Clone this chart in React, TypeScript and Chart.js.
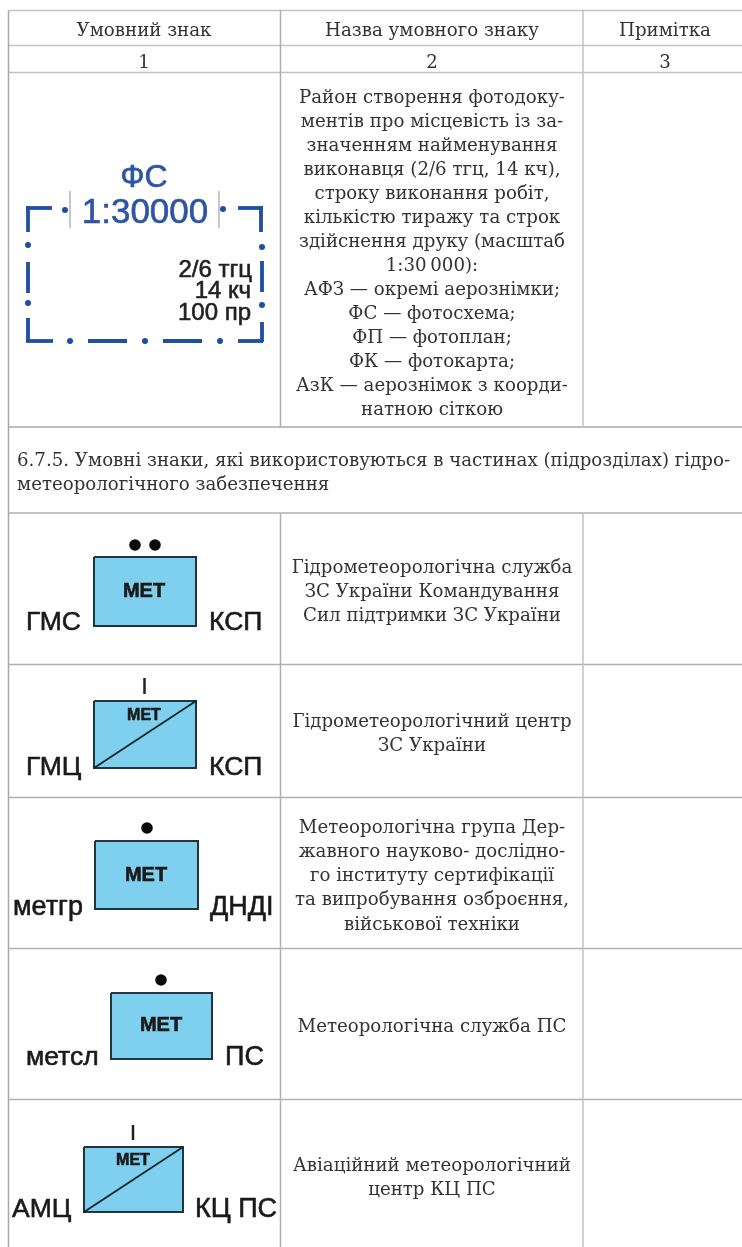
import React, { useEffect, useRef } from "react";
import { Chart, registerables } from "chart.js";

Chart.register(...registerables);

const SERIF = "'DejaVu Serif'";
const SANS = "'Liberation Sans'";
const INK = "#333333";

// Table rules: [x1, y1, x2, y2, colour]
const tableRules: [number, number, number, number, string][] = [
  [8.5, 10.5, 742, 10.5, "#c2c2c2"],
  [8.5, 45.5, 742, 45.5, "#c2c2c2"],
  [8.5, 72.5, 742, 72.5, "#c2c2c2"],
  [8.5, 427, 742, 427, "#a8a8a8"],
  [8.5, 513, 742, 513, "#b0b0b0"],
  [8.5, 664.5, 742, 664.5, "#b0b0b0"],
  [8.5, 797.5, 742, 797.5, "#b0b0b0"],
  [8.5, 948.5, 742, 948.5, "#b0b0b0"],
  [8.5, 1099.5, 742, 1099.5, "#b0b0b0"],
  [8.5, 10.5, 8.5, 1247, "#a8a8a8"],
  [280.5, 10.5, 280.5, 427, "#b0b0b0"],
  [280.5, 513, 280.5, 1247, "#b0b0b0"],
  [583, 10.5, 583, 427, "#c2c2c2"],
  [583, 513, 583, 1247, "#c2c2c2"],
];

// Map-symbol boxes: [x1, y1, x2, y2, diagonal]
const boxes: [number, number, number, number, boolean][] = [
  [94, 557, 196, 626, false],
  [94, 701, 196, 768, true],
  [95, 841, 198, 909, false],
  [111, 993, 212, 1059, false],
  [84, 1147, 183, 1212, true],
];
const blackDots = [
  { x: 135, y: 545 },
  { x: 155, y: 545 },
  { x: 147, y: 828 },
  { x: 161, y: 980 },
];
const blackTicks: [number, number, number, number][] = [
  [144.5, 678, 144.5, 694],
  [133, 1125, 133, 1140],
];
const blueDashes: [number, number, number, number][] = [
  [28, 232, 28, 206.5],
  [26, 208, 52, 208],
  [238, 208, 263, 208],
  [261, 206.5, 261, 232],
  [28, 262, 28, 293],
  [28, 318, 28, 342],
  [26, 341, 53, 341],
  [88, 341, 127, 341],
  [163, 341, 202, 341],
  [238, 341, 263, 341],
  [262, 261, 262, 292],
  [262, 322, 262, 342],
];
const blueDots = [
  { x: 65, y: 210 },
  { x: 223, y: 209 },
  { x: 28, y: 245 },
  { x: 28, y: 303 },
  { x: 262, y: 247 },
  { x: 262, y: 305 },
  { x: 70, y: 341 },
  { x: 145, y: 341 },
  { x: 220, y: 341 },
];
const grayTicks: [number, number, number, number][] = [
  [70, 191, 70, 228],
  [219, 191, 219, 228],
];

// Texts: [text, x, baseline y]
const headerTexts: [string, number, number][] = [
  ["Умовний знак", 144, 36],
  ["Назва умовного знаку", 432, 36],
  ["Примітка", 665, 36],
  ["1", 144, 68],
  ["2", 432, 68],
  ["3", 665, 68],
];
const bodyTexts: [string, number, number][] = [
  ["Район створення фотодоку-", 432, 103],
  ["ментів про місцевість із за-", 432, 127],
  ["значенням найменування", 432, 151],
  ["виконавця (2/6 тгц, 14 кч),", 432, 175],
  ["строку виконання робіт,", 432, 199],
  ["кількістю тиражу та строк", 432, 223],
  ["здійснення друку (масштаб", 432, 247],
  ["1:30\u2009000):", 432, 271],
  ["АФЗ — окремі аерознімки;", 432, 295],
  ["ФС — фотосхема;", 432, 319],
  ["ФП — фотоплан;", 432, 343],
  ["ФК — фотокарта;", 432, 367],
  ["АзК — аерознімок з коорди-", 432, 391],
  ["натною сіткою", 432, 415],
  ["Гідрометеорологічна служба", 432, 573],
  ["ЗС України Командування", 432, 597],
  ["Сил підтримки ЗС України", 432, 621],
  ["Гідрометеорологічний центр", 432, 727],
  ["ЗС України", 432, 751],
  ["Метеорологічна група Дер-", 432, 833],
  ["жавного науково- дослідно-", 432, 857],
  ["го інституту сертифікації", 432, 881],
  ["та випробування озброєння,", 432, 905],
  ["військової техніки", 432, 930],
  ["Метеорологічна служба ПС", 432, 1032],
  ["Авіаційний метеорологічний", 432, 1171],
  ["центр КЦ ПС", 432, 1195],
];
const sectionTexts: [string, number, number][] = [
  ["6.7.5. Умовні знаки, які використовуються в частинах (підрозділах) гідро-", 17, 466],
  ["метеорологічного забезпечення", 17, 490],
];
// Symbol captions: [text, x, baseline y, px, bold, colour, align]
const symbolTexts: [string, number, number, number, boolean, string, CanvasTextAlign][] = [
  ["ФС", 144, 187, 32, false, "#2d55a3", "center"],
  ["1:30000", 145, 223, 35, false, "#2d55a3", "center"],
  ["2/6 тгц", 252, 277, 24, false, "#222222", "right"],
  ["14 кч", 251, 298, 24, false, "#222222", "right"],
  ["100 пр", 251, 320, 24, false, "#222222", "right"],
  ["МЕТ", 144, 597, 20, true, "#1a1a1a", "center"],
  ["ГМС", 26, 630, 26.5, false, "#1a1a1a", "left"],
  ["КСП", 209, 630, 26.5, false, "#1a1a1a", "left"],
  ["МЕТ", 144, 720, 16, true, "#1a1a1a", "center"],
  ["ГМЦ", 26, 775, 26.5, false, "#1a1a1a", "left"],
  ["КСП", 209, 775, 26.5, false, "#1a1a1a", "left"],
  ["МЕТ", 146, 881, 20, true, "#1a1a1a", "center"],
  ["метгр", 13, 915, 27, false, "#1a1a1a", "left"],
  ["ДНДІ", 210, 915, 27, false, "#1a1a1a", "left"],
  ["МЕТ", 161, 1031, 20, true, "#1a1a1a", "center"],
  ["метсл", 26, 1065, 26.5, false, "#1a1a1a", "left"],
  ["ПС", 225, 1065, 27, false, "#1a1a1a", "left"],
  ["МЕТ", 133, 1165, 16, true, "#1a1a1a", "center"],
  ["АМЦ", 12, 1217, 26.5, false, "#1a1a1a", "left"],
  ["КЦ ПС", 195, 1217, 27, false, "#1a1a1a", "left"],
];

const seg = (s: [number, number, number, number], color: string, width: number) => ({
  type: "line" as const,
  data: [{ x: s[0], y: s[1] }, { x: s[2], y: s[3] }],
  borderColor: color,
  borderWidth: width,
  pointRadius: 0,
  showLine: true,
  fill: false,
  tension: 0,
});

const textPlugin = {
  id: "tableText",
  afterDatasetsDraw(chart: any) {
    const { ctx, scales } = chart;
    const draw = (
      rows: [string, number, number][],
      font: string,
      color: string,
      align: CanvasTextAlign,
      stroke = 0
    ) => {
      ctx.font = font;
      ctx.fillStyle = color;
      ctx.strokeStyle = color;
      ctx.lineWidth = stroke;
      ctx.textAlign = align;
      ctx.textBaseline = "alphabetic";
      rows.forEach(([t, x, y]) => {
        const px = scales.x.getPixelForValue(x);
        const py = scales.y.getPixelForValue(y);
        ctx.fillText(t, px, py);
        if (stroke > 0) ctx.strokeText(t, px, py);
      });
    };
    ctx.save();
    draw(headerTexts, `18.2px ${SERIF}`, INK, "center");
    draw(bodyTexts, `18.2px ${SERIF}`, INK, "center");
    draw(sectionTexts, `18.2px ${SERIF}`, INK, "left");
    symbolTexts.forEach(([t, x, y, px, bold, color, align]) => {
      draw([[t, x, y]], `${bold ? "bold " : ""}${px}px ${SANS}`, color, align, 0.6);
    });
    ctx.restore();
  },
};

export default function App() {
  const ref = useRef<HTMLCanvasElement>(null);
  useEffect(() => {
    const datasets: any[] = [];
    tableRules.forEach((r) => datasets.push(seg([r[0], r[1], r[2], r[3]], r[4], 1.5)));
    boxes.forEach(([x1, y1, x2, y2, diag]) => {
      datasets.push({
        type: "line",
        data: [
          { x: x1, y: y1 },
          { x: x2, y: y1 },
          { x: x2, y: y2 },
          { x: x1, y: y2 },
          { x: x1, y: y1 },
        ],
        borderColor: "#1d3640",
        backgroundColor: "#7fd0ee",
        borderWidth: 2,
        pointRadius: 0,
        showLine: true,
        fill: "shape",
        tension: 0,
      });
      if (diag) datasets.push(seg([x1, y2, x2, y1], "#10242c", 1.8));
    });
    blackTicks.forEach((s) => datasets.push(seg(s, "#222222", 2.5)));
    grayTicks.forEach((s) => datasets.push(seg(s, "#b5b5b5", 1.5)));
    blueDashes.forEach((s) => datasets.push(seg(s, "#1f4ea3", 3.8)));
    datasets.push({
      type: "scatter",
      data: blackDots,
      backgroundColor: "#0a0a0a",
      borderWidth: 0,
      pointRadius: 5.8,
    });
    datasets.push({
      type: "scatter",
      data: blueDots,
      backgroundColor: "#1f4ea3",
      borderWidth: 0,
      pointRadius: 3,
    });
    // Chart.js paints the first dataset last, so reverse to paint in the listed order.
    datasets.reverse();
    const chart = new Chart(ref.current!, {
      type: "scatter",
      data: { datasets },
      plugins: [textPlugin],
      options: {
        animation: false,
        responsive: false,
        layout: { padding: 0, autoPadding: false },
        plugins: { legend: { display: false }, tooltip: { enabled: false } },
        scales: {
          x: { type: "linear", min: 0, max: 742, display: false },
          y: { type: "linear", min: 0, max: 1247, reverse: true, display: false },
        },
      },
    } as any);
    return () => chart.destroy();
  }, []);
  return (
    <div style={{ position: "absolute", left: 0, top: 0, width: 742, height: 1247, background: "#fff", overflow: "hidden" }}>
      <canvas ref={ref} width={742} height={1247} style={{ display: "block" }} />
    </div>
  );
}
